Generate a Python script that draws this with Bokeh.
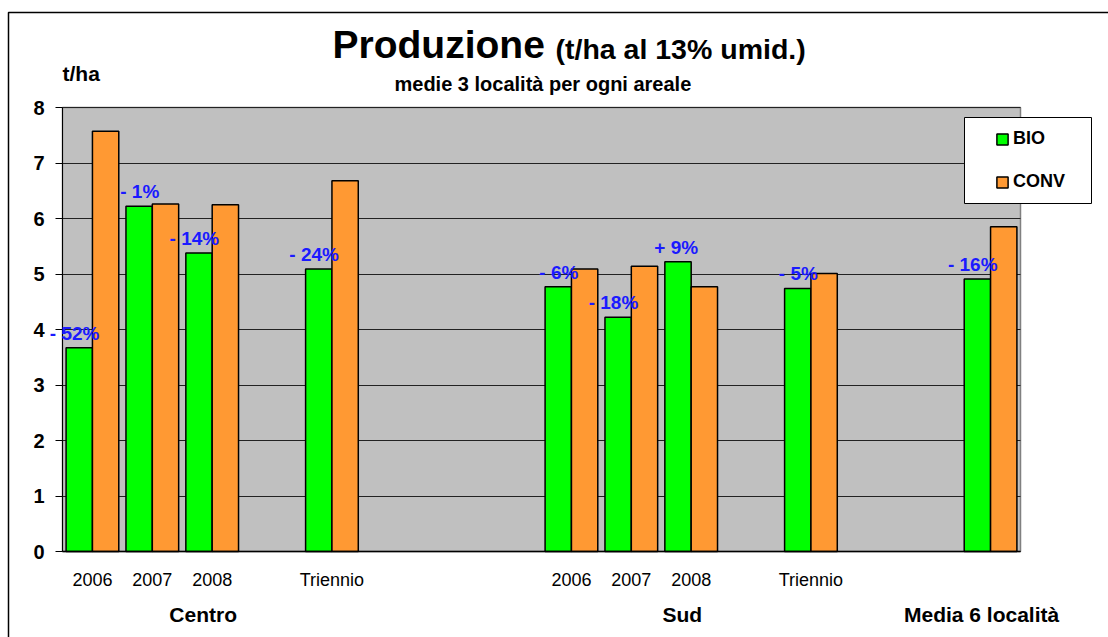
from bokeh.plotting import figure
from bokeh.models import (Range1d, ColumnDataSource, LinearAxis, Legend, Grid,
                          LegendItem, Label, LabelSet, BoxAnnotation, FixedTicker)
from bokeh.transform import dodge
from bokeh.core.properties import value
from bokeh.embed import file_html
from bokeh.resources import INLINE

# ---- data ----
slots = ["C2006", "C2007", "C2008", "g1", "CTri", "g2", "g3", "g4",
         "S2006", "S2007", "S2008", "g5", "STri", "g6", "g7", "M6"]
slot_labels = ["2006", "2007", "2008", "", "Triennio", "", "", "",
               "2006", "2007", "2008", "", "Triennio", "", "", ""]
group_slots = ["C2008", "S2008", "M6"]
group_names = ["Centro", "Sud", "Media 6 località"]

categories = ["C2006", "C2007", "C2008", "CTri", "S2006", "S2007", "S2008", "STri", "M6"]
bio = [3.67, 6.22, 5.38, 5.09, 4.77, 4.22, 5.22, 4.74, 4.91]
conv = [7.57, 6.26, 6.25, 6.68, 5.09, 5.14, 4.77, 5.01, 5.85]
pct = ["- 52%", "- 1%", "- 14%", "- 24%", "- 6%", "- 18%", "+ 9%", "- 5%", "- 16%"]
y_ticks = [0, 1, 2, 3, 4, 5, 6, 7, 8]

FONT = "Liberation Sans"

# ---- layout (canvas pixels) ----
W, H = 1108, 637
PL, PR, PT, PB = 62, 1020, 107, 551          # plot area edges
nslot = len(slots)
ymax = y_ticks[-1]
px_x = (PR - PL) / nslot
px_y = (PB - PT) / ymax

p = figure(width=W, height=H, output_backend="svg", toolbar_location=None,
           x_axis_type=None, y_axis_type=None, title=None,
           x_range=Range1d(-PL / px_x, (W - PL) / px_x),
           y_range=Range1d(-(H - PB) / px_y, ymax + PT / px_y))
p.min_border = 0
p.min_border_left = 0
p.min_border_right = 0
p.min_border_top = 0
p.min_border_bottom = 0
p.outline_line_color = None
p.background_fill_color = "white"
p.border_fill_color = "white"

slot_x = {s: i + 0.5 for i, s in enumerate(slots)}

# plot area background
p.add_layout(BoxAnnotation(left=0, right=nslot, bottom=0, top=ymax, level="image",
                           fill_color="#c0c0c0", fill_alpha=1,
                           line_color="#808080", line_alpha=1, line_width=1.5))

# horizontal grid
grid = Grid(dimension=1, ticker=FixedTicker(ticks=y_ticks), grid_line_color="#222222",
            grid_line_width=1, level="underlay")
if "cross_bounds" in grid.properties():
    grid.cross_bounds = (0, nslot)
    grid.bounds = (0, ymax - 0.5)
    p.add_layout(grid)
else:
    gy = y_ticks[:-1]
    p.segment(x0=[0] * len(gy), x1=[nslot] * len(gy), y0=gy, y1=gy,
              line_color="#222222", line_width=1, level="underlay")

# y axis
yaxis = LinearAxis(fixed_location=0, ticker=FixedTicker(ticks=y_ticks), bounds=(0, ymax),
                   major_label_text_font=FONT, major_label_text_font_size="20px",
                   major_label_text_font_style="bold", major_label_text_color="black",
                   major_tick_out=7, major_tick_in=0, minor_tick_line_color=None,
                   major_label_standoff=11, axis_line_color="black",
                   major_tick_line_color="black")
p.add_layout(yaxis, "left")

# x axis (years)
lab_ticks = [slot_x[s] for s, l in zip(slots, slot_labels) if l]
lab_over = {slot_x[s]: l for s, l in zip(slots, slot_labels) if l}
xaxis = LinearAxis(fixed_location=0, ticker=FixedTicker(ticks=lab_ticks), bounds=(0, nslot),
                   major_label_overrides=lab_over,
                   major_label_text_font=FONT, major_label_text_font_size="18px",
                   major_label_text_color="black", major_tick_line_color=None,
                   major_tick_out=0, major_tick_in=0, minor_tick_line_color=None,
                   axis_line_color="black", axis_line_width=1.5, major_label_standoff=18)
p.add_layout(xaxis, "below")

# group axis
g_ticks = [round(slot_x[s] - 0.15, 3) for s in group_slots]
g_over = dict(zip(g_ticks, group_names))
gaxis = LinearAxis(fixed_location=0, ticker=FixedTicker(ticks=g_ticks),
                   major_label_overrides=g_over, axis_line_color=None,
                   major_tick_line_color=None, minor_tick_line_color=None,
                   major_tick_out=0, major_tick_in=0,
                   major_label_text_font=FONT, major_label_text_font_size="21px",
                   major_label_text_font_style="bold", major_label_text_color="black",
                   major_label_standoff=51)
p.add_layout(gaxis, "below")

# bars
src = ColumnDataSource(dict(x=[slot_x[c] for c in categories], bio=bio, conv=conv, pct=pct))
r1 = p.vbar(x=dodge("x", -0.22), top="bio", width=0.44, source=src,
            fill_color="#00ff00", line_color="black", line_width=1.5)
r2 = p.vbar(x=dodge("x", 0.22), top="conv", width=0.44, source=src,
            fill_color="#ff9933", line_color="black", line_width=1.5)

labels = LabelSet(x="x", y="bio", text="pct", source=src, x_offset=7, y_offset=4,
                  text_align="right", text_baseline="bottom",
                  text_font=value(FONT), text_font_size="19px", text_font_style="bold",
                  text_color="#1a1aff")
p.add_layout(labels)

# outer chart border
p.add_layout(BoxAnnotation(left=8, right=W + 20, top=12, bottom=H + 20,
                           left_units="canvas", right_units="canvas",
                           top_units="canvas", bottom_units="canvas",
                           fill_alpha=0, line_color="black", line_alpha=1, line_width=1.5))

# legend box
p.add_layout(BoxAnnotation(left=964, right=1091, top=117, bottom=203,
                           left_units="canvas", right_units="canvas",
                           top_units="canvas", bottom_units="canvas",
                           fill_color="white", fill_alpha=1,
                           line_color="black", line_alpha=1, line_width=1))

legend = Legend(items=[LegendItem(label="BIO", renderers=[r1]),
                       LegendItem(label="CONV", renderers=[r2])],
                location=(995, H - 192.6), padding=0, margin=0, spacing=21,
                glyph_width=14, glyph_height=14, label_standoff=4, label_height=22,
                label_text_font=FONT, label_text_font_size="18px",
                label_text_font_style="bold", label_text_color="black",
                background_fill_alpha=0, border_line_alpha=0)
p.add_layout(legend)

# titles
def canvas_label(x, y, text, size):
    return Label(x=x, y=y, x_units="canvas", y_units="canvas", text=text,
                 text_font=FONT, text_font_size=size, text_font_style="bold",
                 text_baseline="middle", text_color="black")

p.add_layout(canvas_label(332, 43.9, "Produzione", "39px"))
p.add_layout(canvas_label(555, 48.1, "(t/ha al 13% umid.)", "28.5px"))
p.add_layout(canvas_label(394, 83, "medie 3 località  per ogni areale", "20px"))
p.add_layout(canvas_label(62, 72.6, "t/ha", "21px"))

open("out.html", "w").write(file_html(p, INLINE))
